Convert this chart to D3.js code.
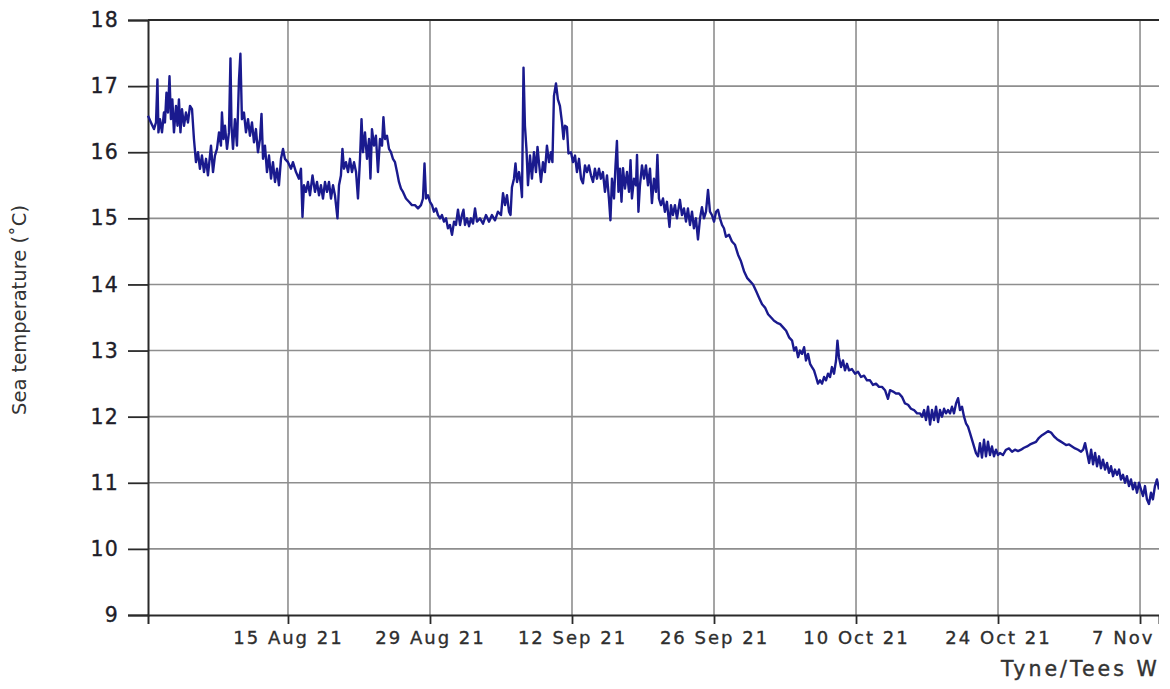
<!DOCTYPE html>
<html>
<head>
<meta charset="utf-8">
<script src="https://cdn.jsdelivr.net/npm/d3@7"></script>
<style>
  html, body { margin: 0; padding: 0; background: #fff; }
  svg { display: block; }
</style>
</head>
<body>
<script>
// ---- Data ----
// Day offsets from 1 Aug 2021 00:00 UTC
const dayOffsets = [
  0.20,0.49,0.79,0.99,1.13,1.23,1.38,1.58,1.77,1.87,2.02,2.17,2.32,2.46,2.60,2.76,2.96,3.11,3.25,3.40,
  3.55,3.75,3.94,4.14,4.34,4.54,4.73,4.93,5.13,5.32,5.52,5.72,5.92,6.11,6.31,6.41,6.61,6.80,7.00,7.20,
  7.39,7.49,7.64,7.79,7.99,8.18,8.33,8.43,8.58,8.77,8.97,9.17,9.31,9.46,9.66,9.86,10.06,10.25,10.45,10.65,
  10.84,11.04,11.24,11.39,11.54,11.73,11.93,12.13,12.33,12.52,12.72,12.92,13.11,13.31,13.51,13.70,14.00,14.30,14.49,
  14.79,15.08,15.28,15.43,15.58,15.77,15.97,16.17,16.42,16.66,16.86,17.06,17.25,17.45,17.65,17.85,18.04,18.24,18.44,18.63,
  18.88,19.03,19.22,19.37,19.52,19.72,19.92,20.11,20.31,20.51,20.71,20.90,21.10,21.25,21.39,21.59,21.79,21.99,22.13,22.28,
  22.48,22.67,22.87,23.07,23.27,23.41,23.56,23.76,23.96,24.15,24.35,24.55,24.75,24.94,25.14,25.34,25.63,25.93,26.22,26.52,
  26.82,27.11,27.31,27.46,27.61,27.80,28.00,28.20,28.39,28.59,28.79,
  28.99,29.18,29.38,29.58,29.77,29.97,30.17,30.37,30.56,30.76,30.96,31.15,31.30,31.45,31.65,31.85,32.04,32.24,32.44,32.63,
  32.93,33.23,33.52,33.82,34.11,34.41,34.70,35.00,35.20,35.40,35.59,35.79,35.94,36.08,36.28,36.43,36.58,36.78,36.97,37.07,
  37.22,37.36,37.51,37.66,37.86,38.05,38.25,38.45,38.60,38.74,38.94,39.14,39.33,39.53,39.73,39.93,40.07,40.22,40.42,40.61,
  40.81,41.01,41.16,41.30,41.50,41.65,41.90,42.10,42.30,42.49,
  42.69,42.89,43.08,43.28,43.48,43.67,43.87,44.07,44.26,44.46,44.66,44.85,45.05,45.25,45.45,45.64,45.79,45.94,46.14,46.29,
  46.43,46.58,46.73,46.88,47.03,47.22,47.42,47.62,47.77,47.91,48.11,48.31,48.41,48.55,48.70,48.90,49.10,49.29,49.49,49.69,
  49.88,50.08,50.28,50.42,50.57,50.77,50.97,51.16,51.36,51.61,51.76,51.95,52.15,52.35,52.64,52.84,53.04,53.24,53.43,53.63,
  53.83,54.02,54.22,54.42,54.62,54.81,55.01,55.21,55.41,55.60,55.80,56.00,56.20,56.39,56.59,56.79,56.98,57.18,57.48,57.77,
  58.07,58.37,58.66,58.96,59.26,59.55,59.85,60.15,60.44,60.74,61.03,61.33,61.63,61.92,62.22,62.52,62.81,63.11,63.40,63.70,
  63.90,64.09,64.29,64.48,64.68,64.88,65.07,65.27,65.47,65.66,65.86,66.06,66.25,66.45,66.65,66.85,67.04,67.24,67.44,67.63,
  67.83,68.03,68.17,68.32,68.52,68.72,68.91,69.11,69.31,69.60,69.90,70.19,70.49,70.79,71.08,71.38,71.67,71.97,72.27,72.56,
  72.86,73.15,73.35,73.65,73.94,74.24,74.53,74.83,75.13,75.42,75.72,76.02,76.31,
  76.51,76.71,76.90,77.10,77.30,77.49,77.69,77.89,78.09,78.28,78.48,78.68,78.87,79.07,79.27,79.46,79.66,79.86,80.06,80.25,
  80.45,80.65,80.84,81.04,81.24,81.44,81.63,81.83,82.03,82.22,82.42,82.62,82.81,83.01,83.21,83.40,83.60,83.80,84.00,84.19,
  84.49,84.79,85.08,85.38,85.67,85.97,86.27,86.56,86.86,87.16,87.45,87.75,88.04,88.34,88.64,88.93,89.23,89.53,89.82,90.12,
  90.41,90.71,91.01,91.30,91.60,91.89,92.19,92.39,92.58,92.78,92.98,93.18,93.37,93.57,93.76,93.96,94.15,94.35,94.55,94.75,
  94.94,95.14,95.34,95.53,95.73,95.93,96.12,96.32,96.52,96.71,96.91,97.11,97.30,97.50,97.70,97.90,98.09,98.29,98.49,98.68,
  98.88,99.08,99.27,99.47,99.67,99.87
];
// Sea temperature (°C)
const temps = [
  16.55,16.45,16.35,16.45,17.1,16.3,16.5,16.3,16.6,16.45,16.9,16.6,17.15,16.5,16.8,16.3,16.7,16.4,16.8,16.3,
  16.65,16.4,16.6,16.45,16.7,16.65,16.2,15.85,16.0,15.75,15.95,15.7,15.9,15.65,15.95,16.1,15.7,15.95,16.05,16.3,
  16.1,16.6,16.2,16.4,16.05,16.3,17.42,16.4,16.05,16.5,16.1,17.1,17.49,16.5,16.6,16.3,16.5,16.25,16.45,16.15,
  16.35,16.0,16.2,16.58,15.9,16.1,15.7,15.95,15.6,15.85,15.55,15.75,15.5,15.9,16.05,15.9,15.85,15.75,15.85,
  15.7,15.6,15.75,15.02,15.5,15.4,15.55,15.35,15.65,15.4,15.55,15.35,15.5,15.3,15.55,15.4,15.55,15.3,15.5,15.35,
  15.0,15.5,15.65,16.05,15.75,15.85,15.7,15.9,15.7,15.85,15.7,15.3,15.9,16.5,16.0,16.3,15.9,16.2,15.6,16.35,
  16.1,16.25,15.7,16.2,16.1,16.53,16.2,16.25,16.05,16.0,15.9,15.85,15.7,15.55,15.45,15.4,15.3,15.25,15.2,15.2,
  15.15,15.2,15.3,15.83,15.3,15.35,15.25,15.2,15.1,15.15,15.05,
  15.0,15.05,14.95,15.0,14.85,14.9,14.75,14.95,14.9,15.13,14.9,15.05,15.13,14.9,15.0,14.88,15.0,14.92,15.15,14.95,
  15.0,14.92,15.05,14.95,15.05,14.97,15.1,15.05,15.38,15.2,15.35,15.1,15.05,15.47,15.6,15.83,15.55,15.7,15.5,15.32,
  17.28,16.4,16.05,15.5,15.95,15.6,16.0,15.7,16.08,15.85,15.55,15.85,15.7,16.1,15.85,16.0,15.85,16.85,17.04,16.8,
  16.7,16.45,16.2,16.4,16.38,15.98,16.0,15.85,15.95,15.7,
  15.9,15.6,15.53,15.8,15.7,15.8,15.65,15.55,15.75,15.6,15.75,15.6,15.7,15.4,15.65,15.3,14.97,15.6,15.3,15.8,
  16.17,15.4,15.75,15.25,15.76,15.45,15.7,15.4,15.88,15.3,15.6,15.5,15.96,15.1,15.5,15.8,15.6,15.8,15.5,15.75,
  15.23,15.6,15.4,15.96,15.3,15.2,15.3,15.1,15.25,14.87,15.2,15.05,15.2,15.0,15.28,15.05,15.15,14.95,15.15,14.9,
  15.1,14.85,15.0,14.68,15.0,15.17,15.0,15.1,15.43,15.1,15.05,14.95,15.1,15.13,15.0,14.9,14.85,14.72,14.75,14.65,
  14.6,14.45,14.35,14.2,14.1,14.05,14.0,13.9,13.8,13.7,13.65,13.55,13.5,13.45,13.42,13.4,13.35,13.3,13.2,13.15,
  13.0,13.05,12.9,13.0,12.95,13.05,12.85,12.95,12.8,12.75,12.7,12.6,12.5,12.55,12.5,12.6,12.55,12.65,12.6,12.75,
  12.65,12.85,13.15,12.9,12.75,12.85,12.7,12.8,12.7,12.72,12.65,12.68,12.6,12.62,12.55,12.55,12.48,12.5,12.45,12.45,
  12.4,12.27,12.4,12.38,12.35,12.35,12.3,12.2,12.18,12.12,12.1,12.05,12.05,
  12.0,12.1,11.95,12.15,11.88,12.1,11.95,12.15,11.92,12.1,12.0,12.12,12.05,12.1,12.05,12.15,12.05,12.2,12.28,12.1,
  12.15,12.0,11.9,11.85,11.75,11.65,11.55,11.45,11.4,11.6,11.38,11.65,11.4,11.62,11.42,11.55,11.4,11.5,11.42,11.45,
  11.42,11.5,11.52,11.47,11.5,11.48,11.5,11.53,11.55,11.58,11.6,11.62,11.68,11.72,11.75,11.78,11.76,11.7,11.66,11.63,
  11.6,11.57,11.58,11.55,11.52,11.5,11.47,11.5,11.6,11.45,11.3,11.5,11.28,11.45,11.25,11.4,11.22,11.35,11.2,11.3,
  11.15,11.25,11.1,11.2,11.12,11.2,11.05,11.12,11.0,11.1,10.95,11.05,10.9,11.0,10.85,11.0,10.9,10.8,10.95,10.75,
  10.68,10.85,10.75,10.95,11.05,10.9
];
const tickDates = ["2021-08-15","2021-08-29","2021-09-12","2021-09-26","2021-10-10","2021-10-24","2021-11-07"];
const tickLabels = ["15 Aug 21","29 Aug 21","12 Sep 21","26 Sep 21","10 Oct 21","24 Oct 21","7 Nov 21"];
const yTickValues = [9,10,11,12,13,14,15,16,17,18];
const yTitle = "Sea temperature (\u02DAC)";
const sourceLabel = "Tyne/Tees WaveNet";
const domainStartDay = 0.20;
const domainEndDay = 99.87;

(function () {
  // ---- Layout ----
  const W = 1159, H = 689;
  const mLeft = 148, mRight = 1159, mTop = 20, mBottom = 615;
  const DAY = 86400000;
  const START = Date.UTC(2021, 7, 1);
  const toDate = d => new Date(START + d * DAY);

  const n = Math.min(dayOffsets.length, temps.length);
  const data = [];
  for (let i = 0; i < n; i++) data.push({ t: toDate(dayOffsets[i]), v: temps[i] });

  const svg = d3.select("body").append("svg")
    .attr("width", W).attr("height", H)
    .style("overflow", "hidden");

  const x = d3.scaleUtc().domain([toDate(domainStartDay), toDate(domainEndDay)]).range([mLeft, mRight]);
  const y = d3.scaleLinear().domain([9, 18]).range([mBottom, mTop]);

  const gridColor = "#8e8e8e";
  const axisColor = "#2a2a2a";

  // horizontal gridlines
  svg.append("g").selectAll("line").data(yTickValues.filter(v => v !== 9 && v !== 18)).join("line")
    .attr("x1", mLeft).attr("x2", mRight)
    .attr("y1", d => y(d)).attr("y2", d => y(d))
    .attr("stroke", gridColor).attr("stroke-width", 1.6);

  // vertical gridlines
  const tickD = tickDates.map(s => new Date(s + "T00:00:00Z"));
  svg.append("g").selectAll("line").data(tickD).join("line")
    .attr("x1", d => x(d)).attr("x2", d => x(d))
    .attr("y1", mTop).attr("y2", mBottom)
    .attr("stroke", gridColor).attr("stroke-width", 1.6);

  // top border
  svg.append("line").attr("x1", mLeft).attr("x2", mRight).attr("y1", y(18)).attr("y2", y(18))
    .attr("stroke", axisColor).attr("stroke-width", 1.8);

  // Y axis
  const yAxis = d3.axisLeft(y).tickValues(yTickValues).tickSize(20).tickPadding(9).tickFormat(d3.format("d"));
  const gy = svg.append("g").attr("transform", `translate(${mLeft},0)`).call(yAxis);
  gy.select(".domain").attr("stroke", axisColor).attr("stroke-width", 2);
  gy.selectAll(".tick line").attr("stroke", axisColor).attr("stroke-width", 1.8);
  gy.selectAll(".tick text")
    .attr("font-family", "DejaVu Sans, Verdana, sans-serif")
    .attr("font-size", 20.5).attr("fill", "#1e1e2a")
    .attr("stroke", "#1e1e2a").attr("stroke-width", 0.35)
    .attr("letter-spacing", "1.2px");

  // X axis
  const xAxis = d3.axisBottom(x).tickValues(tickD).tickSize(9).tickPadding(7)
    .tickFormat((d, i) => tickLabels[i]);
  const gx = svg.append("g").attr("transform", `translate(0,${mBottom})`).call(xAxis);
  gx.select(".domain").attr("stroke", axisColor).attr("stroke-width", 2);
  gx.selectAll(".tick line").attr("stroke", axisColor).attr("stroke-width", 1.8);
  gx.selectAll(".tick text")
    .attr("font-family", "DejaVu Sans, Verdana, sans-serif")
    .attr("font-size", 18).attr("fill", "#2e2e2e")
    .attr("stroke", "#2e2e2e").attr("stroke-width", 0.35)
    .attr("letter-spacing", "2px");

  // data line
  const line = d3.line().x(d => x(d.t)).y(d => y(d.v));
  svg.append("path").datum(data)
    .attr("d", line)
    .attr("fill", "none")
    .attr("stroke", "#1a1a8e")
    .attr("stroke-width", 2.4)
    .attr("stroke-linejoin", "round");

  // Y title
  svg.append("text")
    .attr("transform", `translate(26,${310}) rotate(-90)`)
    .attr("text-anchor", "middle")
    .attr("font-family", "Liberation Sans Narrow, DejaVu Sans Condensed, sans-serif")
    .attr("font-size", 19)
    .attr("fill", "#333")
    .attr("textLength", 210)
    .attr("lengthAdjust", "spacingAndGlyphs")
    .text(yTitle);

  // source label (clipped by the picture edge as in the reference)
  svg.append("text")
    .attr("x", 1001).attr("y", 676)
    .attr("font-family", "DejaVu Sans, Verdana, sans-serif")
    .attr("font-size", 20.5)
    .attr("fill", "#333")
    .attr("stroke", "#333").attr("stroke-width", 0.4)
    .attr("letter-spacing", "3px")
    .text(sourceLabel);
})();
</script>
</body>
</html>
